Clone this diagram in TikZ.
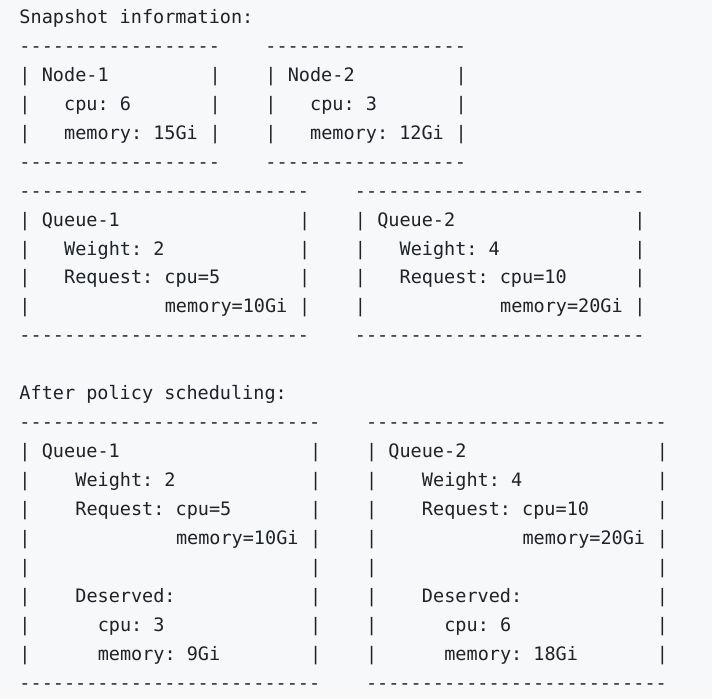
\documentclass[tikz,border=0pt]{standalone}
\usepackage{fontspec}
\setmonofont{DejaVu Sans Mono}
\usetikzlibrary{positioning}
\definecolor{codebg}{HTML}{F6F8FA}
\definecolor{codefg}{HTML}{1F2328}
\tikzset{
  mono/.style={font=\ttfamily\fontsize{18.5}{22}\selectfont, text=codefg,
    anchor=base west, inner sep=0pt, outer sep=0pt},
}
\newcommand\dashes[1]{\foreach \i in {1,...,#1}{-}}
% name, left col, right col, first row, last row
\newcommand\pipes[5]{%
  \foreach \r in {#4,...,#5}{
    \node[mono] (#1-l\r) at (#2,\r) {|};
    \node[mono] (#1-r\r) at (#3,\r) {|};
  }}

\begin{document}
\begin{tikzpicture}[x=11.18pt, y=-28.95pt]
  \fill[codebg] (0,0) rectangle (712pt,-699pt);
  \begin{scope}[shift={(19.5pt,-23.4pt)}]
  \node[mono] (snap) at (0,0) {Snapshot information:};

  \node[mono] (n1-top) at (0,1) {\dashes{18}};
  \node[mono] (n2-top) at (22,1) {\dashes{18}};
  \pipes{n1}{0}{17}{2}{4}
  \pipes{n2}{22}{39}{2}{4}
  \node[mono] (n1-name) at (2,2) {Node-1};
  \node[mono] (n1-cpu) at (4,3) {cpu: 6};
  \node[mono] (n1-mem) at (4,4) {memory: 15Gi};
  \node[mono] (n2-name) at (24,2) {Node-2};
  \node[mono] (n2-cpu) at (26,3) {cpu: 3};
  \node[mono] (n2-mem) at (26,4) {memory: 12Gi};
  \node[mono] (n1-bot) at (0,5) {\dashes{18}};
  \node[mono] (n2-bot) at (22,5) {\dashes{18}};

  \node[mono] (q1-top) at (0,6) {\dashes{26}};
  \node[mono] (q2-top) at (30,6) {\dashes{26}};
  \pipes{q1}{0}{25}{7}{10}
  \pipes{q2}{30}{55}{7}{10}
  \node[mono] (q1-name) at (2,7) {Queue-1};
  \node[mono] (q1-wt) at (4,8) {Weight: 2};
  \node[mono] (q1-req) at (4,9) {Request: cpu=5};
  \node[mono] (q1-mem) at (13,10) {memory=10Gi};
  \node[mono] (q2-name) at (32,7) {Queue-2};
  \node[mono] (q2-wt) at (34,8) {Weight: 4};
  \node[mono] (q2-req) at (34,9) {Request: cpu=10};
  \node[mono] (q2-mem) at (43,10) {memory=20Gi};
  \node[mono] (q1-bot) at (0,11) {\dashes{26}};
  \node[mono] (q2-bot) at (30,11) {\dashes{26}};

  \node[mono] (after) at (0,13) {After policy scheduling:};

  \node[mono] (s1-top) at (0,14) {\dashes{27}};
  \node[mono] (s2-top) at (31,14) {\dashes{27}};
  \pipes{s1}{0}{26}{15}{22}
  \pipes{s2}{31}{57}{15}{22}
  \node[mono] (s1-name) at (2,15) {Queue-1};
  \node[mono] (s1-wt) at (5,16) {Weight: 2};
  \node[mono] (s1-req) at (5,17) {Request: cpu=5};
  \node[mono] (s1-mem) at (14,18) {memory=10Gi};
  \node[mono] (s1-des) at (5,20) {Deserved:};
  \node[mono] (s1-dcpu) at (7,21) {cpu: 3};
  \node[mono] (s1-dmem) at (7,22) {memory: 9Gi};
  \node[mono] (s2-name) at (33,15) {Queue-2};
  \node[mono] (s2-wt) at (36,16) {Weight: 4};
  \node[mono] (s2-req) at (36,17) {Request: cpu=10};
  \node[mono] (s2-mem) at (45,18) {memory=20Gi};
  \node[mono] (s2-des) at (36,20) {Deserved:};
  \node[mono] (s2-dcpu) at (38,21) {cpu: 6};
  \node[mono] (s2-dmem) at (38,22) {memory: 18Gi};
  \node[mono] (s1-bot) at (0,23) {\dashes{27}};
  \node[mono] (s2-bot) at (31,23) {\dashes{27}};
  \end{scope}
\end{tikzpicture}
\end{document}
